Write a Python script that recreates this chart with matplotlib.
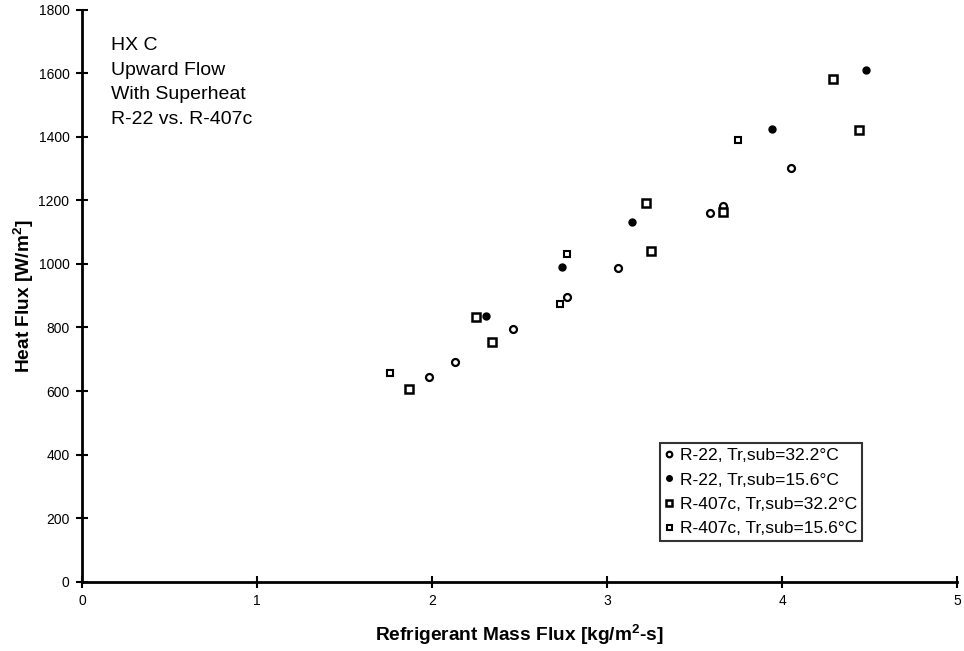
import matplotlib
matplotlib.use("Agg")
import matplotlib.pyplot as plt

plt.rcParams['font.family'] = ['Liberation Sans', 'DejaVu Sans']
plt.rcParams['mathtext.fontset'] = 'custom'
plt.rcParams['mathtext.rm'] = 'Liberation Sans'
plt.rcParams['mathtext.bf'] = 'Liberation Sans:bold'

# R-22, Tr,sub=32.2°C
r22_hot_x = [1.98, 2.13, 2.46, 2.77, 3.06, 3.59, 3.66, 4.05]
r22_hot_y = [644, 692, 796, 896, 988, 1160, 1182, 1303]
# R-22, Tr,sub=15.6°C
r22_cold_x = [2.31, 2.74, 3.14, 3.94, 4.48]
r22_cold_y = [837, 991, 1132, 1425, 1609]
# R-407c, Tr,sub=32.2°C
r407_hot_x = [1.87, 2.25, 2.34, 3.22, 3.25, 3.66, 4.29, 4.44]
r407_hot_y = [607, 833, 755, 1192, 1041, 1164, 1583, 1422]
# R-407c, Tr,sub=15.6°C
r407_cold_x = [1.76, 2.73, 2.77, 3.75]
r407_cold_y = [657, 874, 1031, 1391]

labels = ["R-22, Tr,sub=32.2°C", "R-22, Tr,sub=15.6°C",
          "R-407c, Tr,sub=32.2°C", "R-407c, Tr,sub=15.6°C"]
x_ticks = [0, 1, 2, 3, 4, 5]
y_ticks = [0, 200, 400, 600, 800, 1000, 1200, 1400, 1600, 1800]

fig = plt.figure(figsize=(9.64, 6.51), dpi=100)
ax = fig.add_axes([0.085, 0.1065, 0.908, 0.8785])

ax.plot(r22_hot_x, r22_hot_y, linestyle='none', marker='o', ms=5.0,
        mfc='white', mec='black', mew=1.6, label=labels[0])
ax.plot(r22_cold_x, r22_cold_y, linestyle='none', marker='o', ms=5.0,
        mfc='black', mec='black', mew=1.0, label=labels[1])
ax.plot(r407_hot_x, r407_hot_y, linestyle='none', marker='s', ms=5.5,
        mfc='white', mec='black', mew=1.8, label=labels[2])
ax.plot(r407_cold_x, r407_cold_y, linestyle='none', marker='s', ms=4.5,
        mfc='white', mec='black', mew=1.5, label=labels[3])

ax.set_xlim(0, 5)
ax.set_ylim(0, 1800)
ax.set_xticks(x_ticks)
ax.set_yticks(y_ticks)
ax.tick_params(direction='inout', length=8, width=1.5, labelsize=10, pad=5)
for s in ['top', 'right']:
    ax.spines[s].set_visible(False)
for s in ['left', 'bottom']:
    ax.spines[s].set_linewidth(2.0)

ax.set_xlabel(r"Refrigerant Mass Flux [kg/m$^{\mathbf{2}}$-s]", fontsize=13.8,
              fontweight='bold', labelpad=10)
ax.set_ylabel(r"Heat Flux [W/m$^{\mathbf{2}}$]", fontsize=13.8,
              fontweight='bold', labelpad=1.5)

ax.text(0.033, 0.952, "HX C\nUpward Flow\nWith Superheat\nR-22 vs. R-407c",
        transform=ax.transAxes, ha='left', va='top', fontsize=14,
        linespacing=1.58)

leg = ax.legend(loc='upper left', bbox_to_anchor=(0.66, 0.243),
                borderaxespad=0, fontsize=12.6, frameon=True, fancybox=False,
                edgecolor='black', handlelength=0.5, handletextpad=0.35,
                labelspacing=0.52, borderpad=0.3, markerscale=0.8)
leg.get_frame().set_linewidth(1.5)

fig.savefig("out.png", dpi=100)
